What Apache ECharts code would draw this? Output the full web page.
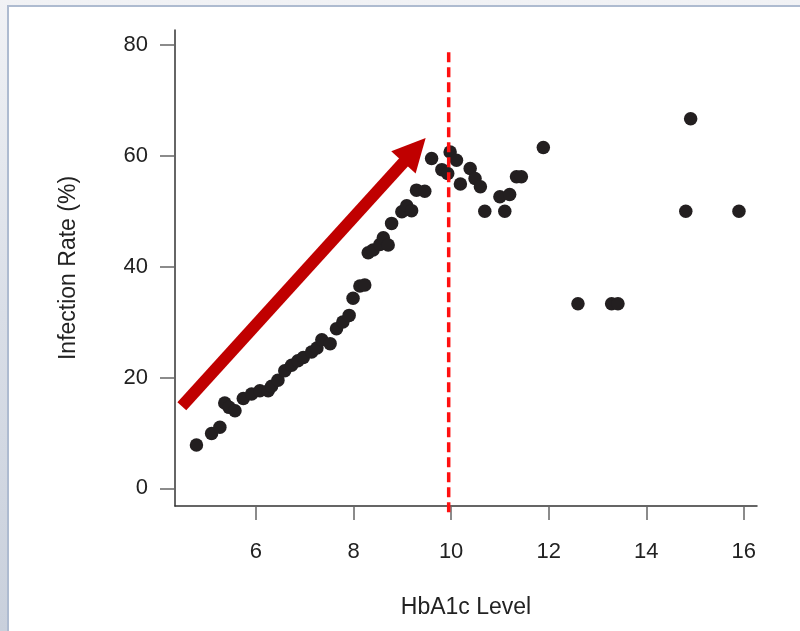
<!DOCTYPE html>
<html>
<head>
<meta charset="utf-8">
<title>HbA1c vs Infection Rate</title>
<script src="https://cdn.jsdelivr.net/npm/echarts@6/dist/echarts.min.js"></script>
<style>
  html, body { margin: 0; padding: 0; background: #fff; }
  #main { width: 800px; height: 631px; }
</style>
</head>
<body>
<div id="main"></div>
<script>
// data: [HbA1c, infection rate %]
var hba1c = [4.78, 5.09, 5.26, 5.36, 5.45, 5.57, 5.74, 5.91, 6.08, 6.25, 6.32, 6.45, 6.59, 6.73, 6.86, 6.97,
    7.14, 7.25, 7.35, 7.52, 7.65, 7.78, 7.91, 7.99, 8.13, 8.23, 8.30, 8.40, 8.54, 8.61, 8.71, 8.78, 8.99,
    9.09, 9.19, 9.29, 9.46, 9.60, 9.81, 9.93, 9.98, 10.11, 10.19, 10.39, 10.49, 10.60, 10.69, 11.00, 11.10,
    11.20, 11.34, 11.44, 11.89, 12.60, 13.29, 13.42, 14.81, 14.91, 15.90];
var infectionRate = [7.8, 9.9, 11.0, 15.4, 14.6, 14.0, 16.2, 17.0, 17.6, 17.6, 18.4, 19.5, 21.2, 22.2, 23.0, 23.6,
    24.6, 25.3, 26.8, 26.1, 28.8, 30.0, 31.2, 34.3, 36.5, 36.7, 42.5, 43.0, 44.0, 45.2, 43.9, 47.8, 49.9,
    51.0, 50.1, 53.8, 53.6, 59.5, 57.5, 56.8, 60.7, 59.2, 54.9, 57.7, 55.9, 54.4, 50.0, 52.6, 50.0,
    53.0, 56.2, 56.2, 61.5, 33.3, 33.3, 33.3, 50.0, 66.7, 50.0];

var xTicks = [6, 8, 10, 12, 14, 16];
var yTicks = [0, 20, 40, 60, 80];

// cut-off line [x, top, bottom] and trend arrow (data units)
var cutoff = [9.95, 78.7, -4.9];
var arrowFrom = [4.48, 14.8];
var arrowTo = [9.25, 61.0];

function scatter(divId){
    var myChart = echarts.init(document.getElementById(divId));
    var points = [];
    for (var i = 0; i < hba1c.length; i++) {
        points.push([hba1c[i], infectionRate[i]]);
    }
    var font = '"Liberation Sans", Arial, sans-serif';
    var option = {
        animation: false,
        backgroundColor: '#fff',
        graphic: [
            // slide frame around the picture
            {
                type: 'rect', z: -10, silent: true,
                shape: {x: 0, y: 0, width: 800, height: 631},
                style: {
                    fill: new echarts.graphic.LinearGradient(0, 0, 0, 1, [
                        {offset: 0, color: '#f1f2f5'},
                        {offset: 0.5, color: '#d9dee7'},
                        {offset: 1, color: '#c9d0dc'}
                    ])
                }
            },
            {
                type: 'rect', z: -9, silent: true,
                shape: {x: 8, y: 6, width: 800, height: 640},
                style: {fill: '#fff', stroke: '#aebbd0', lineWidth: 2}
            }
        ],
        grid: {
            left: 175,
            right: 43,
            top: 30,
            bottom: 125
        },
        xAxis: {
            type: 'value',
            min: 4.34,
            max: 16.27,
            name: 'HbA1c Level',
            nameLocation: 'middle',
            nameGap: 90,
            nameTextStyle: {fontFamily: font, fontSize: 23, color: '#222'},
            splitLine: {show: false},
            axisLine: {show: true, onZero: false, lineStyle: {color: '#333', width: 1.5}},
            axisTick: {
                show: true,
                length: 14,
                customValues: xTicks,
                lineStyle: {color: '#666', width: 1.5}
            },
            axisLabel: {
                customValues: xTicks,
                margin: 35,
                fontFamily: font,
                fontSize: 22,
                color: '#222'
            }
        },
        yAxis: {
            type: 'value',
            min: -3.2,
            max: 82.7,
            name: 'Infection Rate (%)',
            nameLocation: 'middle',
            nameGap: 95,
            nameRotate: 90,
            nameTextStyle: {fontFamily: font, fontSize: 23, color: '#222'},
            splitLine: {show: false},
            axisLine: {show: true, onZero: false, lineStyle: {color: '#333', width: 1.5}},
            axisTick: {
                show: true,
                length: 15,
                customValues: yTicks,
                lineStyle: {color: '#666', width: 1.5}
            },
            axisLabel: {
                customValues: yTicks,
                margin: 27,
                fontFamily: font,
                fontSize: 22,
                color: '#222'
            }
        },
        series: [
            {
                type: 'scatter',
                symbol: 'circle',
                symbolSize: 13.5,
                z: 2,
                itemStyle: {color: '#231f20', opacity: 1},
                emphasis: {disabled: true},
                data: points,
                markLine: {
                    silent: true,
                    animation: false,
                    label: {show: false},
                    emphasis: {disabled: true},
                    data: [
                        [
                            {coord: arrowFrom, symbol: 'none',
                                lineStyle: {color: '#c00000', width: 12, type: 'solid', cap: 'butt'}},
                            {coord: arrowTo, symbol: 'triangle', symbolSize: [33, 33],
                                itemStyle: {color: '#c00000'}}
                        ]
                    ]
                }
            },
            {
                // red dashed cut-off, drawn over the dots and a little past the x axis
                type: 'custom',
                clip: false,
                silent: true,
                z: 5,
                data: [cutoff],
                renderItem: function (params, api) {
                    var top = api.coord([api.value(0), api.value(1)]);
                    var bottom = api.coord([api.value(0), api.value(2)]);
                    return {
                        type: 'line',
                        shape: {x1: top[0], y1: top[1], x2: bottom[0], y2: bottom[1]},
                        style: {stroke: '#ff1010', lineWidth: 3.5, lineDash: [10, 5]}
                    };
                }
            }
        ]
    };
    myChart.setOption(option);
}

scatter('main');
</script>
</body>
</html>
